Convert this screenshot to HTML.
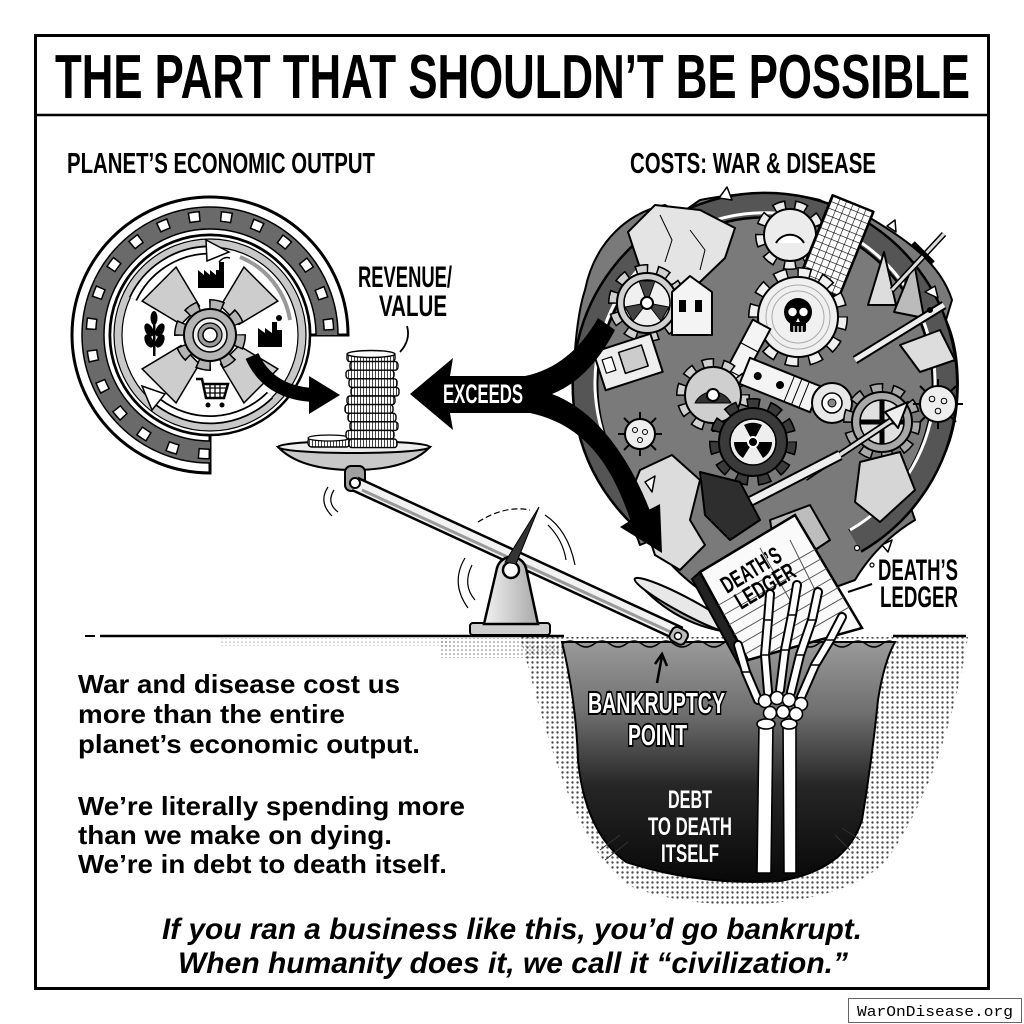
<!DOCTYPE html>
<html><head><meta charset="utf-8"><style>
html,body{margin:0;padding:0;background:#fff;}
svg{display:block;}
</style></head><body>
<svg width="1024" height="1024" viewBox="0 0 1024 1024" xmlns="http://www.w3.org/2000/svg" font-family="'Liberation Sans', sans-serif">
<defs>
 <pattern id="dots" width="5" height="5" patternUnits="userSpaceOnUse"><circle cx="2.5" cy="2.5" r="1.2" fill="#000"/></pattern>
 <pattern id="dotsS" width="4" height="4" patternUnits="userSpaceOnUse"><circle cx="2" cy="2" r="0.8" fill="#000"/></pattern>
 <pattern id="vh" width="3" height="10" patternUnits="userSpaceOnUse"><rect width="3" height="10" fill="#fff"/><rect width="1" height="10" fill="#444"/></pattern>
 <pattern id="grid" width="7" height="7" patternUnits="userSpaceOnUse"><rect width="7" height="7" fill="#fff"/><path d="M0 0H7M0 0V7" stroke="#000" stroke-width="1.2"/></pattern>
 <linearGradient id="pitg" x1="0" y1="0" x2="0" y2="1">
  <stop offset="0" stop-color="#9a9a9a"/><stop offset="0.3" stop-color="#6e6e6e"/><stop offset="0.6" stop-color="#262626"/><stop offset="1" stop-color="#080808"/>
 </linearGradient>
 <linearGradient id="fulg" x1="0" y1="0" x2="1" y2="0">
  <stop offset="0" stop-color="#f2f2f2"/><stop offset="1" stop-color="#a8a8a8"/>
 </linearGradient>
 <clipPath id="bookclip"><polygon points="700,572 795,515 862,628 748,660"/></clipPath>
</defs>

<rect width="1024" height="1024" fill="#fff"/>

<!-- frame -->
<rect x="35.5" y="35.5" width="953" height="953" fill="none" stroke="#000" stroke-width="3"/>
<line x1="35" y1="115" x2="989" y2="115" stroke="#000" stroke-width="2.5"/>

<!-- title -->
<text x="55" y="98" font-family="'Liberation Sans Narrow','Liberation Sans',sans-serif" font-weight="bold" font-size="62" textLength="915" lengthAdjust="spacingAndGlyphs">THE PART THAT SHOULDN’T BE POSSIBLE</text>

<text x="67" y="173" font-family="'Liberation Sans Narrow','Liberation Sans',sans-serif" font-weight="bold" font-size="29" textLength="308" lengthAdjust="spacingAndGlyphs">PLANET’S ECONOMIC OUTPUT</text>
<text x="630" y="173" font-family="'Liberation Sans Narrow','Liberation Sans',sans-serif" font-weight="bold" font-size="29" textLength="246" lengthAdjust="spacingAndGlyphs">COSTS: WAR &amp; DISEASE</text>

<!-- ================= WHEEL ================= -->
<g>
 <path d="M 210,473 A 138,138 0 1 1 348,335 L 310,335 A 100,100 0 1 0 210,435 Z" fill="#fff" stroke="#000" stroke-width="3"/>
 <path d="M 210,452 A 117,117 0 1 1 327,335" fill="none" stroke="#6a6a6a" stroke-width="22"/>
 <path d="M 210,454 A 119,119 0 1 1 329,335" fill="none" stroke="#000" stroke-width="11" stroke-dasharray="12 20"/>
 <path d="M 210,454 A 119,119 0 1 1 329,335" fill="none" stroke="#fff" stroke-width="8" stroke-dasharray="9 23" stroke-dashoffset="-1.5"/>
 <path d="M 210,463 A 128,128 0 1 1 338,335" fill="none" stroke="#000" stroke-width="1.5"/>
 <path d="M 210,441 A 106,106 0 1 1 316,335" fill="none" stroke="#000" stroke-width="1.5"/>
 <circle cx="210" cy="335" r="100" fill="#fff" stroke="#000" stroke-width="2.5"/>
 <circle cx="210" cy="335" r="92" fill="none" stroke="#c8c8c8" stroke-width="8"/>
 <circle cx="210" cy="335" r="96" fill="none" stroke="#000" stroke-width="1.2"/>
 <circle cx="210" cy="335" r="88" fill="none" stroke="#000" stroke-width="1.2"/>
 <!-- blades -->
 <g transform="translate(210,335)" fill="#cdcdcd" stroke="#000" stroke-width="1.5">
  <polygon points="28,-13 72,-24 72,24 28,13" transform="rotate(45)"/>
  <polygon points="28,-13 72,-24 72,24 28,13" transform="rotate(135)"/>
  <polygon points="28,-13 72,-24 72,24 28,13" transform="rotate(225)"/>
  <polygon points="28,-13 72,-24 72,24 28,13" transform="rotate(315)"/>
 </g>
 <!-- center gear -->
 <g transform="translate(210,335)">
  <circle r="30.5" fill="none" stroke="#000" stroke-width="11" stroke-dasharray="14 9.95" stroke-dashoffset="1"/>
  <circle r="30.5" fill="none" stroke="#b4b4b4" stroke-width="8" stroke-dasharray="11 12.95" stroke-dashoffset="-0.5"/>
  <circle r="26" fill="#b4b4b4" stroke="#000" stroke-width="2"/>
  <circle r="17" fill="#eee" stroke="#000" stroke-width="1.5"/>
  <circle r="12" fill="#9a9a9a" stroke="#000" stroke-width="1.2"/>
  <circle r="7" fill="#fff" stroke="#000" stroke-width="1.5"/>
 </g>
 <!-- curved arrows -->
 <path d="M 133,299 A 85,85 0 0 1 207,250" fill="none" stroke="#000" stroke-width="9"/>
 <path d="M 133,299 A 85,85 0 0 1 207,250" fill="none" stroke="#fff" stroke-width="5.5"/>
 <polygon points="206,240 229,252 207,261" fill="#fff" stroke="#000" stroke-width="1.5"/>
 <path d="M 270,395 A 85,85 0 0 1 158,402" fill="none" stroke="#000" stroke-width="9"/>
 <path d="M 270,395 A 85,85 0 0 1 158,402" fill="none" stroke="#fff" stroke-width="5.5"/>
 <polygon points="165,394 142,386 152,410" fill="#fff" stroke="#000" stroke-width="1.5"/>
 <path d="M 240,257 A 82,82 0 0 1 290,320" fill="none" stroke="#999" stroke-width="4"/>
 <!-- icons -->
 <path d="M198,288 L198,270 L204,275 L204,270 L210,275 L210,270 L216,275 L216,270 L219,270 L219,262 L224,262 L224,288 Z" fill="#000"/>
 <path d="M219,262 Q224,256 230,258" fill="none" stroke="#000" stroke-width="1.5"/>
 <path d="M258,347 L258,328 L265,333 L265,328 L272,333 L272,322 L277,322 L277,347 Z M277,330 L282,330 L282,347 L277,347 Z" fill="#000"/>
 <circle cx="279" cy="318" r="3" fill="#000"/>
 <g fill="#000">
  <rect x="153" y="318" width="2.5" height="38"/>
  <ellipse cx="149" cy="330" rx="4" ry="7" transform="rotate(-25 149 330)"/>
  <ellipse cx="160" cy="330" rx="4" ry="7" transform="rotate(25 160 330)"/>
  <ellipse cx="149" cy="341" rx="4" ry="7" transform="rotate(-25 149 341)"/>
  <ellipse cx="160" cy="341" rx="4" ry="7" transform="rotate(25 160 341)"/>
  <ellipse cx="154" cy="318" rx="3.5" ry="7"/>
 </g>
 <path d="M196,379 L202,379 L206,398 L224,398 L228,384 L203,384" fill="none" stroke="#000" stroke-width="2.5"/>
 <path d="M205,388 H226 M205,393 H225 M210,384 V398 M215,384 V398 M220,384 V398" stroke="#000" stroke-width="1.3"/>
 <circle cx="208" cy="405" r="2.5" fill="#000"/><circle cx="222" cy="405" r="2.5" fill="#000"/>
</g>

<!-- arrow wheel -> coins -->
<path d="M 252,356 Q 268,392 312,395" fill="none" stroke="#000" stroke-width="14"/>
<polygon points="309,376 340,395 309,414" fill="#000"/>

<!-- REVENUE / VALUE -->
<text x="358" y="287" font-family="'Liberation Sans Narrow','Liberation Sans',sans-serif" font-weight="bold" font-size="30" textLength="94" lengthAdjust="spacingAndGlyphs">REVENUE/</text>
<text x="379" y="316" font-family="'Liberation Sans Narrow','Liberation Sans',sans-serif" font-weight="bold" font-size="30" textLength="68" lengthAdjust="spacingAndGlyphs">VALUE</text>
<path d="M 400,352 Q 411,340 407,326" fill="none" stroke="#000" stroke-width="1.8"/>

<!-- ================= PIT ================= -->
<path d="M 520,637 L 968,637 C 958,700 935,790 890,855 C 850,912 700,916 630,886 C 575,850 545,730 520,637 Z" fill="url(#dots)" opacity="0.7"/>
<rect x="440" y="638" width="125" height="20" fill="url(#dotsS)" opacity="0.55"/>
<rect x="220" y="638" width="230" height="8" fill="url(#dotsS)" opacity="0.3"/>
<path d="M 562,642 Q 576,700 578,760 Q 585,832 626,862 Q 700,886 780,881 Q 846,870 862,820 Q 872,760 878,700 Q 884,662 895,642 Z" fill="url(#pitg)" stroke="#000" stroke-width="2"/>
<path d="M 562,644 q 8,-6 16,0 t16,0 t16,0 t16,0 t16,0 t16,0 t16,0 t16,0 t16,0 t16,0 t16,0 t16,0 t16,0 t16,0 t16,0 t16,0 t16,0 t16,0 t16,0 t16,0 t13,0" fill="none" stroke="#000" stroke-width="1.5"/>
<g stroke="#333" stroke-width="1" fill="none">
 <path d="M 600,850 L 620,835 M 605,860 L 628,842 M 850,850 L 835,835 M 860,840 L 842,828"/>
</g>
<line x1="100" y1="636" x2="564" y2="636" stroke="#000" stroke-width="2.5"/>
<line x1="85" y1="636" x2="95" y2="636" stroke="#000" stroke-width="2"/>
<line x1="893" y1="636" x2="966" y2="636" stroke="#000" stroke-width="2.5"/>

<!-- ================= CHAOS PILE ================= -->
<g stroke="#000" stroke-width="2" stroke-linejoin="round">
 <path d="M 585,290 C 595,240 630,212 665,205 L 680,214 L 700,200 C 740,192 780,190 820,200 L 840,212 L 860,212 C 905,238 940,262 952,300 L 946,320 C 960,350 962,400 950,440 C 940,470 925,490 910,505 L 915,520 C 890,535 870,555 855,580 L 800,600 L 700,590 C 680,575 665,560 652,540 L 640,545 C 630,515 615,500 598,480 C 578,450 572,400 575,350 C 577,325 580,305 585,290 Z" fill="#7a7a7a"/>
 <path d="M 675,541 A 180,180 0 1 1 855,541" fill="none" stroke="#000" stroke-width="27"/>
 <path d="M 675,541 A 180,180 0 1 1 855,541" fill="none" stroke="#555" stroke-width="22"/>
 <path d="M 680,530 A 170,170 0 1 1 850,530" fill="none" stroke="#fff" stroke-width="3"/>
 <!-- paper -->
 <polygon points="628,232 655,205 700,210 735,228 725,258 700,282 665,285 640,268" fill="#e4e4e4"/>
 <polyline points="660,215 672,240 665,262" fill="none" stroke-width="1"/>
 <polyline points="690,230 705,250 700,270" fill="none" stroke-width="1"/>
 <!-- gear top -->
 <g transform="translate(790,235)">
  <circle r="30" fill="none" stroke-width="10" stroke-dasharray="12.5 8.44" stroke-dashoffset="1"/>
  <circle r="30" fill="none" stroke="#ececec" stroke-width="7" stroke-dasharray="9.5 11.44" stroke-dashoffset="-0.5"/>
  <circle r="26" fill="#ececec"/>
  <path d="M -14,8 A 16,16 0 0 1 14,8" fill="#fff" stroke-width="2"/>
 </g>
 <!-- building -->
 <g transform="translate(835,248) rotate(22)">
  <rect x="-22" y="-48" width="44" height="92" fill="url(#grid)" stroke-width="2.5"/>
 </g>
 <polygon points="868,305 884,252 896,305" fill="#ddd"/>
 <polygon points="894,312 914,262 924,318" fill="#bbb"/>
 <!-- dagger -->
 <line x1="892" y1="290" x2="944" y2="234" stroke-width="6"/>
 <line x1="892" y1="290" x2="944" y2="234" stroke="#ddd" stroke-width="3"/>
 <line x1="913" y1="243" x2="933" y2="263" stroke-width="5"/>
 <!-- gear A -->
 <g transform="translate(647,303)">
  <circle r="34" fill="none" stroke-width="10" stroke-dasharray="12.7 8.66" stroke-dashoffset="1"/>
  <circle r="34" fill="none" stroke="#d0d0d0" stroke-width="7" stroke-dasharray="9.7 11.66" stroke-dashoffset="-0.5"/>
  <circle r="30" fill="#d0d0d0"/>
  <circle r="23" fill="#f0f0f0" stroke-width="1.5"/>
  <path d="M0,0 L-8,-22 L8,-22 Z M0,0 L22,4 L14,18 Z M0,0 L-14,18 L-22,4 Z" fill="#444" stroke-width="1"/>
  <circle r="6" fill="#fff"/>
 </g>
 <!-- house -->
 <polygon points="672,335 672,292 690,276 712,292 712,335" fill="#f4f4f4"/>
 <rect x="679" y="300" width="7" height="12" fill="#000" stroke="none"/>
 <rect x="695" y="300" width="7" height="12" fill="#000" stroke="none"/>
 <!-- skull gear -->
 <g transform="translate(798,317)">
  <circle r="44.5" fill="none" stroke-width="11" stroke-dasharray="13.6 9.7" stroke-dashoffset="1"/>
  <circle r="44.5" fill="none" stroke="#f0f0f0" stroke-width="8" stroke-dasharray="10.6 12.7" stroke-dashoffset="-0.5"/>
  <circle r="40" fill="#f0f0f0"/>
  <circle r="32" fill="none" stroke="#aaa" stroke-width="1"/>
  <circle r="26" fill="none" stroke="#aaa" stroke-width="1"/>
  <g stroke="none" fill="#000">
   <circle cx="0" cy="-5" r="14"/>
   <rect x="-8" y="4" width="16" height="11" rx="2"/>
  </g>
  <circle cx="-5.5" cy="-5" r="4.2" fill="#fff" stroke="none"/>
  <circle cx="5.5" cy="-5" r="4.2" fill="#fff" stroke="none"/>
  <polygon points="0,1 -2,5 2,5" fill="#fff" stroke="none"/>
  <path d="M-4,9 V15 M0,9 V15 M4,9 V15" stroke="#fff" stroke-width="1.3"/>
 </g>
 <!-- camera box -->
 <g transform="translate(628,362) rotate(-18)">
  <rect x="-30" y="-20" width="60" height="40" fill="#eee"/>
  <rect x="-6" y="-12" width="24" height="22" fill="#ccc" stroke-width="1.5"/>
  <rect x="-24" y="-10" width="10" height="14" fill="#fff" stroke-width="1.2"/>
 </g>
 <!-- pipe -->
 <g transform="translate(740,365) rotate(-62)">
  <rect x="-46" y="-10" width="92" height="20" fill="#f4f4f4"/>
  <rect x="-50" y="-13" width="12" height="26" rx="3" fill="#ddd"/>
  <path d="M -20,-10 V10 M -10,-10 V10 M 20,-10 V10" stroke-width="1.2"/>
 </g>
 <!-- rifle top right -->
 <line x1="855" y1="360" x2="944" y2="305" stroke-width="9"/>
 <line x1="855" y1="360" x2="944" y2="305" stroke="#eee" stroke-width="5"/>
 <polygon points="900,345 940,330 955,360 920,372" fill="#ddd"/>
 <!-- gear B -->
 <g transform="translate(713,395)">
  <circle r="32" fill="none" stroke-width="10" stroke-dasharray="12 8.1" stroke-dashoffset="1"/>
  <circle r="32" fill="none" stroke="#cfcfcf" stroke-width="7" stroke-dasharray="9 11.1" stroke-dashoffset="-0.5"/>
  <circle r="28" fill="#cfcfcf"/>
  <path d="M -18,8 A 20,20 0 0 1 18,8 Z" fill="#333" stroke-width="1"/>
  <circle r="6" fill="#fff"/>
 </g>
 <!-- beam plate -->
 <g transform="translate(780,385) rotate(22)">
  <rect x="-38" y="-14" width="76" height="28" fill="#f4f4f4"/>
  <circle cx="-24" cy="0" r="3" fill="#000"/><circle cx="0" cy="0" r="3" fill="#000"/>
  <path d="M 10,-14 V14 M 18,-14 V14 M 26,-14 V14" stroke-width="1"/>
 </g>
 <!-- valve disk -->
 <circle cx="832" cy="403" r="20" fill="#e8e8e8"/>
 <circle cx="832" cy="403" r="10" fill="#fff" stroke-width="1.5"/>
 <circle cx="832" cy="403" r="4" fill="#888" stroke-width="1"/>
 <!-- gear C -->
 <g transform="translate(882,422)">
  <circle r="34" fill="none" stroke-width="10" stroke-dasharray="12.7 8.66" stroke-dashoffset="1"/>
  <circle r="34" fill="none" stroke="#a8a8a8" stroke-width="7" stroke-dasharray="9.7 11.66" stroke-dashoffset="-0.5"/>
  <circle r="30" fill="#a8a8a8"/>
  <circle r="22" fill="#e0e0e0" stroke-width="1.5"/>
  <path d="M0,-22 V22 M-22,0 H22" stroke-width="5"/>
 </g>
 <!-- radiation gear -->
 <g transform="translate(753,442)">
  <circle r="38.5" fill="none" stroke-width="11" stroke-dasharray="13 9" stroke-dashoffset="1"/>
  <circle r="38.5" fill="none" stroke="#3a3a3a" stroke-width="8" stroke-dasharray="10 12" stroke-dashoffset="-0.5"/>
  <circle r="34" fill="#3a3a3a"/>
  <circle r="23" fill="#eee" stroke-width="1.5"/>
  <path d="M0,0 L-9,-17 A 19,19 0 0 1 9,-17 Z M0,0 L19,0 A 19,19 0 0 1 10,16 Z M0,0 L-10,16 A 19,19 0 0 1 -19,0 Z" fill="#000" stroke="none"/>
  <circle r="6" fill="#fff" stroke="none"/>
  <circle r="4" fill="#000" stroke="none"/>
 </g>
 <!-- viruses -->
 <g transform="translate(640,434)">
  <path d="M0,-22 V22 M-22,0 H22 M-16,-16 L16,16 M16,-16 L-16,16" stroke-width="2"/>
  <circle r="15" fill="#eee"/>
  <circle cx="-5" cy="-4" r="2.5" fill="none" stroke-width="1"/><circle cx="5" cy="-2" r="2.5" fill="none" stroke-width="1"/><circle cx="0" cy="6" r="2.5" fill="none" stroke-width="1"/>
 </g>
 <g transform="translate(938,404)">
  <path d="M0,-25 V25 M-25,0 H25 M-18,-18 L18,18 M18,-18 L-18,18" stroke-width="2"/>
  <circle r="18" fill="#eee"/>
  <circle cx="-6" cy="-5" r="2.8" fill="none" stroke-width="1"/><circle cx="6" cy="-3" r="2.8" fill="none" stroke-width="1"/><circle cx="0" cy="7" r="2.8" fill="none" stroke-width="1"/>
 </g>
 <!-- spear -->
 <line x1="805" y1="478" x2="895" y2="418" stroke-width="7"/>
 <line x1="805" y1="478" x2="895" y2="418" stroke="#ddd" stroke-width="3.5"/>
 <polygon points="885,412 908,402 898,428" fill="#eee"/>
 <!-- rifle 2 -->
 <line x1="718" y1="518" x2="840" y2="455" stroke-width="11"/>
 <line x1="718" y1="518" x2="840" y2="455" stroke="#eee" stroke-width="7"/>
 <!-- lower shapes -->
 <polygon points="640,470 672,455 700,480 690,520 705,545 680,570 655,555 645,525 628,500" fill="#dcdcdc"/>
 <polygon points="700,472 740,482 760,520 730,540 705,515" fill="#2e2e2e"/>
 <polygon points="860,462 900,452 915,490 880,522 855,502" fill="#d6d6d6"/>
 <polygon points="770,520 810,505 830,540 800,560 775,550" fill="#bdbdbd"/>
 <!-- debris -->
 <polygon points="719,198 727,187 732,200" fill="#fff" stroke-width="1.5"/>
 <polygon points="887,226 895,220 896,232" fill="#fff" stroke-width="1.5"/>
 <polygon points="925,292 935,286 938,298" fill="#fff" stroke-width="1.5"/>
 <polygon points="645,482 655,476 652,492" fill="#fff" stroke-width="1.5"/>
 <polygon points="882,545 892,540 888,552" fill="#fff" stroke-width="1.5"/>
 <circle cx="930" cy="310" r="2" fill="#000"/>
 <circle cx="617" cy="470" r="2" fill="#000"/>
 <circle cx="857" cy="548" r="2.5" fill="#fff" stroke-width="1.2"/>
 <circle cx="872" cy="565" r="2" fill="#fff" stroke-width="1.2"/>
</g>

<!-- ================= EXCEEDS ARROW ================= -->
<path d="M 410,394 L 453,358 L 450,376 L 525,376 C 555,370 580,350 598,318 L 615,330 C 597,365 575,385 552,394 C 595,410 628,455 649.5,509.5 L 660,504 L 662,553 L 620,527 L 630.5,520.5 C 612,465 585,425 530,413 L 450,413 L 453,430 Z" fill="#000"/>
<text x="443" y="403" font-family="'Liberation Sans Narrow','Liberation Sans',sans-serif" font-weight="bold" font-size="27" fill="#fff" textLength="80" lengthAdjust="spacingAndGlyphs">EXCEEDS</text>

<!-- ================= SEESAW ================= -->
<path d="M 278,447 Q 300,470 354,470 Q 408,470 430,447 Z" fill="#c8c8c8" stroke="#000" stroke-width="2"/>
<ellipse cx="354" cy="447" rx="76" ry="6" fill="#eee" stroke="#000" stroke-width="2"/>
<rect x="308" y="437" width="42" height="10" rx="4" fill="url(#vh)" stroke="#000" stroke-width="1.4"/>
<ellipse cx="329" cy="438" rx="21" ry="3" fill="#fff" stroke="#000" stroke-width="1.2"/>
<g stroke="#000" stroke-width="1.4" fill="url(#vh)">
 <rect x="347" y="353" width="48" height="8.6" rx="3"/>
 <rect x="350" y="361.6" width="48" height="8.6" rx="3"/>
 <rect x="346" y="370.2" width="48" height="8.6" rx="3"/>
 <rect x="349" y="378.8" width="48" height="8.6" rx="3"/>
 <rect x="351" y="387.4" width="48" height="8.6" rx="3"/>
 <rect x="347" y="396" width="48" height="8.6" rx="3"/>
 <rect x="345" y="404.6" width="48" height="8.6" rx="3"/>
 <rect x="348" y="413.2" width="48" height="8.6" rx="3"/>
 <rect x="350" y="421.8" width="48" height="8.6" rx="3"/>
 <rect x="346" y="430.4" width="48" height="8.6" rx="3"/>
 <rect x="349" y="439" width="48" height="8.6" rx="3"/>
</g>
<ellipse cx="371" cy="354" rx="24" ry="3.5" fill="#fff" stroke="#000" stroke-width="1.4"/>
<rect x="345" y="466" width="20" height="25" rx="6" fill="#a0a0a0" stroke="#000" stroke-width="2"/>

<!-- beam -->
<line x1="355" y1="484" x2="680" y2="634" stroke="#000" stroke-width="16"/>
<line x1="355" y1="484" x2="680" y2="634" stroke="#f2f2f2" stroke-width="11"/>
<line x1="362" y1="490" x2="675" y2="634" stroke="#9a9a9a" stroke-width="3"/>
<circle cx="355" cy="483" r="5" fill="#fff" stroke="#000" stroke-width="2"/>

<!-- fulcrum -->
<rect x="470" y="623" width="80" height="12" rx="3" fill="#cfcfcf" stroke="#000" stroke-width="2"/>
<path d="M 484,624 L 497,568 A 15,15 0 0 1 526,568 L 538,624 Z" fill="url(#fulg)" stroke="#000" stroke-width="2.5"/>
<circle cx="511" cy="570" r="8" fill="#fff" stroke="#000" stroke-width="2.5"/>
<polygon points="505,562 516,564 539,507" fill="#333" stroke="#000" stroke-width="1"/>

<!-- motion lines -->
<g fill="none" stroke="#000" stroke-width="1.2">
 <path d="M 328,487 Q 318,502 332,516"/>
 <path d="M 334,490 Q 326,503 338,512"/>
 <path d="M 465,558 Q 450,583 468,608"/>
 <path d="M 472,565 Q 462,585 475,600"/>
 <path d="M 478,522 Q 505,505 530,510" stroke-dasharray="6 3"/>
 <path d="M 545,515 Q 568,530 575,565"/>
 <path d="M 548,525 Q 563,540 566,560"/>
</g>

<!-- right pan -->
<g transform="translate(686,606) rotate(28)">
 <path d="M -58,0 Q 0,24 58,0 Z" fill="#a8a8a8" stroke="#000" stroke-width="2"/>
 <ellipse rx="58" ry="8" fill="#e8e8e8" stroke="#000" stroke-width="2"/>
</g>
<rect x="670" y="628" width="17" height="15" rx="5" fill="#bbb" stroke="#000" stroke-width="2" transform="rotate(28 678 636)"/>
<circle cx="678" cy="636" r="3.5" fill="#fff" stroke="#000" stroke-width="1.5"/>

<!-- book -->
<polygon points="692,579 700,572 748,660 740,667" fill="#222" stroke="#000" stroke-width="2"/>
<polygon points="700,572 795,515 862,628 748,660" fill="#fafafa" stroke="#000" stroke-width="2.5"/>
<g clip-path="url(#bookclip)" stroke="#555" stroke-width="1">
 <path d="M 720,630 L 850,555 M 725,640 L 855,565 M 730,650 L 860,575 M 735,660 L 865,585 M 740,670 L 870,595 M 715,620 L 845,545 M 710,610 L 840,535 M 790,600 L 760,548 M 815,590 L 790,540"/>
</g>
<text transform="translate(727,594) rotate(-31)" font-family="'Liberation Sans Narrow','Liberation Sans',sans-serif" font-weight="bold" font-size="24" textLength="66" lengthAdjust="spacingAndGlyphs">DEATH’S</text>
<text transform="translate(741,610) rotate(-31)" font-family="'Liberation Sans Narrow','Liberation Sans',sans-serif" font-weight="bold" font-size="24" textLength="66" lengthAdjust="spacingAndGlyphs">LEDGER</text>

<!-- skeleton hand -->
<g stroke-linecap="round" fill="none">
 <g stroke="#000" stroke-width="10">
  <polyline points="768,692 765,655 768,620 770,594"/>
  <polyline points="780,690 785,650 792,615 797,585"/>
  <polyline points="791,692 800,655 812,620 818,592"/>
  <polyline points="801,697 815,665 830,640 842,617"/>
  <polyline points="758,700 746,672 738,645"/>
 </g>
 <g stroke="#fff" stroke-width="6">
  <polyline points="768,692 765,655 768,620 770,594"/>
  <polyline points="780,690 785,650 792,615 797,585"/>
  <polyline points="791,692 800,655 812,620 818,592"/>
  <polyline points="801,697 815,665 830,640 842,617"/>
  <polyline points="758,700 746,672 738,645"/>
 </g>
 <g stroke="#000" stroke-width="1.5">
  <path d="M762,655 h7 M765,620 h7 M782,650 h7 M789,615 h7 M797,655 h7 M809,620 h7 M812,665 h7 M827,640 h7 M743,672 h7"/>
 </g>
</g>
<g fill="#fff" stroke="#000" stroke-width="1.6">
 <circle cx="765" cy="701" r="6.5"/><circle cx="777" cy="698" r="6.5"/><circle cx="789" cy="700" r="6.5"/><circle cx="801" cy="704" r="6.5"/>
 <circle cx="770" cy="713" r="6.5"/><circle cx="783" cy="712" r="6.5"/><circle cx="796" cy="714" r="6.5"/>
 <polygon points="759,722 773,722 771,873 757,873"/>
 <polygon points="783,722 796,722 796,873 784,873"/>
 <ellipse cx="766" cy="724" rx="9" ry="5"/>
 <ellipse cx="789" cy="724" rx="8" ry="5"/>
</g>

<!-- pit labels -->
<g font-family="'Liberation Sans Narrow','Liberation Sans',sans-serif" font-weight="bold">
 <text x="588" y="713" font-size="29" fill="#fff" stroke="#000" stroke-width="4" style="paint-order:stroke" textLength="137" lengthAdjust="spacingAndGlyphs">BANKRUPTCY</text>
 <text x="628" y="745" font-size="29" fill="#fff" stroke="#000" stroke-width="4" style="paint-order:stroke" textLength="59" lengthAdjust="spacingAndGlyphs">POINT</text>
 <text x="668" y="808" font-size="25" fill="#fff" textLength="44" lengthAdjust="spacingAndGlyphs">DEBT</text>
 <text x="648" y="835" font-size="25" fill="#fff" textLength="84" lengthAdjust="spacingAndGlyphs">TO DEATH</text>
 <text x="661" y="862" font-size="25" fill="#fff" textLength="58" lengthAdjust="spacingAndGlyphs">ITSELF</text>
 <text x="878" y="580" font-size="30" textLength="80" lengthAdjust="spacingAndGlyphs">DEATH’S</text>
 <text x="880" y="607" font-size="30" textLength="78" lengthAdjust="spacingAndGlyphs">LEDGER</text>
</g>
<path d="M 657,683 L 662,656" stroke="#000" stroke-width="2.5" fill="none"/>
<path d="M 655,664 L 662,654 L 667,666" stroke="#000" stroke-width="2.5" fill="none"/>
<line x1="848" y1="592" x2="872" y2="584" stroke="#000" stroke-width="2"/>

<!-- left text -->
<g font-family="'Liberation Sans', sans-serif" font-weight="bold" font-size="26" fill="#000">
 <text x="78" y="693" textLength="322" lengthAdjust="spacingAndGlyphs">War and disease cost us</text>
 <text x="78" y="723" textLength="267" lengthAdjust="spacingAndGlyphs">more than the entire</text>
 <text x="78" y="753" textLength="342" lengthAdjust="spacingAndGlyphs">planet’s economic output.</text>
 <text x="78" y="815" textLength="387" lengthAdjust="spacingAndGlyphs">We’re literally spending more</text>
 <text x="78" y="844" textLength="314" lengthAdjust="spacingAndGlyphs">than we make on dying.</text>
 <text x="78" y="873" textLength="369" lengthAdjust="spacingAndGlyphs">We’re in debt to death itself.</text>
</g>

<!-- bottom italic -->
<g font-family="'Liberation Sans Narrow','Liberation Sans',sans-serif" font-weight="bold" font-style="italic" font-size="30">
 <text x="162" y="939" textLength="700" lengthAdjust="spacingAndGlyphs">If you ran a business like this, you’d go bankrupt.</text>
 <text x="178" y="973" textLength="670" lengthAdjust="spacingAndGlyphs">When humanity does it, we call it “civilization.”</text>
</g>

<!-- watermark -->
<rect x="848.5" y="998.5" width="173" height="24" fill="#fff" stroke="#666" stroke-width="1"/>
<text x="857" y="1016" font-family="'Liberation Mono', monospace" font-size="15" textLength="156" lengthAdjust="spacingAndGlyphs">WarOnDisease.org</text>
</svg>
</body></html>
